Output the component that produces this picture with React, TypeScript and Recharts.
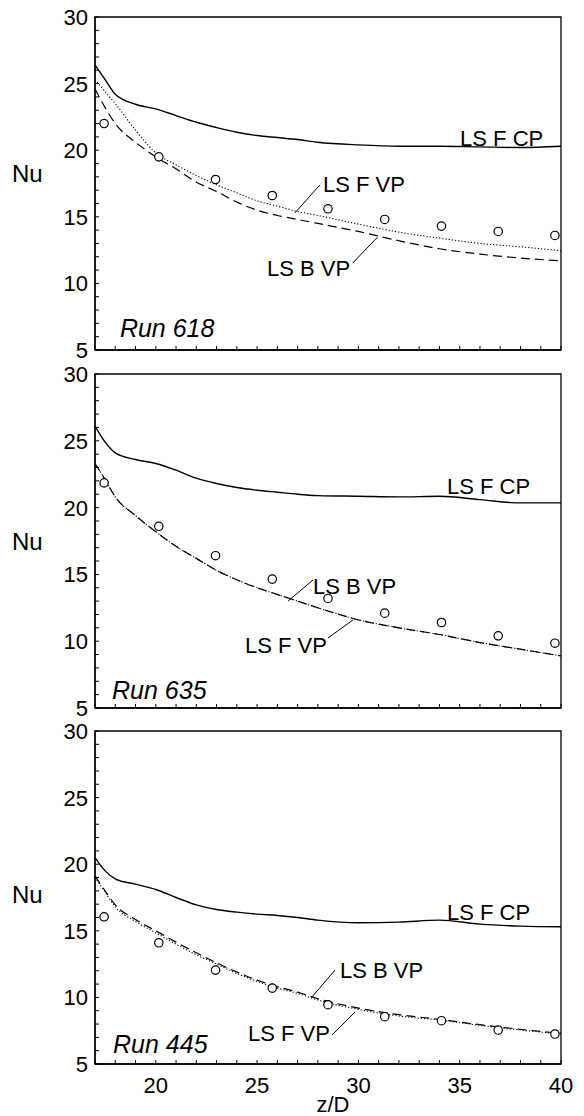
import React from "react";
import {
  ComposedChart,
  Line,
  Scatter,
  XAxis,
  YAxis,
  Label,
  ReferenceArea,
  ReferenceLine,
  ReferenceDot,
} from "recharts";

// z/D stations used for the computed profiles
const zGrid = [17, 17.5, 18, 19, 20, 21, 22, 23, 24, 25, 26, 27, 28, 30, 32, 34, 36, 38, 40];
// z/D stations of the measurements
const zMeasured = [17.45, 20.15, 22.95, 25.75, 28.5, 31.3, 34.1, 36.9, 39.7];

const xTicks = [17, 18, 19, 20, 21, 22, 23, 24, 25, 26, 27, 28, 29, 30, 31, 32, 33, 34, 35, 36, 37, 38, 39, 40];
const yTicks = [5, 6, 7, 8, 9, 10, 11, 12, 13, 14, 15, 16, 17, 18, 19, 20, 21, 22, 23, 24, 25, 26, 27, 28, 29, 30];

// Run 618
const run618Cp = [26.4, 25.3, 24.2, 23.45, 23.1, 22.6, 22.1, 21.7, 21.35, 21.1, 20.95, 20.8, 20.6, 20.4, 20.3, 20.3, 20.25, 20.2, 20.3];
const run618Fvp = [25.3, 24.4, 23.5, 21.5, 19.8, 18.9, 18.1, 17.4, 16.8, 16.2, 15.8, 15.4, 15.1, 14.45, 13.85, 13.4, 13.0, 12.75, 12.45];
const run618Bvp = [24.6, 23.2, 22.0, 20.6, 19.5, 18.6, 17.6, 16.9, 16.1, 15.5, 15.1, 14.8, 14.5, 13.9, 13.2, 12.6, 12.2, 11.9, 11.7];
const run618Nu = [22.0, 19.5, 17.8, 16.6, 15.6, 14.8, 14.3, 13.9, 13.6];

// Run 635
const run635Cp = [26.1, 24.9, 24.1, 23.6, 23.3, 22.8, 22.2, 21.8, 21.5, 21.3, 21.15, 21.0, 20.9, 20.85, 20.8, 20.85, 20.6, 20.35, 20.35];
const run635Fvp = [23.3, 22.1, 20.8, 19.4, 18.2, 17.1, 16.2, 15.3, 14.6, 14.0, 13.5, 13.0, 12.5, 11.6, 11.0, 10.5, 9.9, 9.4, 8.9];
const run635Bvp = [23.3, 22.1, 20.8, 19.4, 18.2, 17.1, 16.2, 15.3, 14.6, 14.0, 13.5, 13.0, 12.5, 11.6, 11.0, 10.5, 9.9, 9.4, 8.9];
const run635Nu = [21.85, 18.6, 16.4, 14.65, 13.2, 12.1, 11.4, 10.4, 9.85];

// Run 445
const run445Cp = [20.5, 19.5, 18.9, 18.5, 18.1, 17.5, 16.95, 16.6, 16.4, 16.25, 16.15, 16.0, 15.8, 15.6, 15.65, 15.8, 15.5, 15.35, 15.3];
const run445Fvp = [19.0, 17.9, 16.8, 15.7, 14.85, 14.0, 13.2, 12.5, 11.8, 11.2, 10.7, 10.3, 9.8, 9.1, 8.6, 8.3, 7.9, 7.55, 7.25];
const run445Bvp = [19.1, 18.0, 16.95, 15.85, 15.0, 14.15, 13.35, 12.6, 11.9, 11.3, 10.8, 10.4, 9.9, 9.2, 8.7, 8.35, 7.95, 7.6, 7.3];
const run445Nu = [16.05, 14.1, 12.05, 10.7, 9.45, 8.55, 8.25, 7.55, 7.25];

const profile = (values: number[]) => zGrid.map((z, i) => ({ z, nu: values[i] }));
const measured = (values: number[]) => zMeasured.map((z, i) => ({ z, nu: values[i] }));

type Note = { text: string; at: [number, number]; leader?: [number, number, number, number] };

const panels = [
  {
    run: "Run 618",
    runAt: [18.23, 6.65],
    cp: run618Cp,
    fvp: run618Fvp,
    bvp: run618Bvp,
    nu: run618Nu,
    top: 0,
    height: 362,
    marginTop: 17,
    xAxisHeight: 12,
    showX: false,
    nuDy: -10,
    notes: [
      { text: "LS F CP", at: [35.02, 20.92] },
      { text: "LS F VP", at: [28.25, 17.45], leader: [26.87, 15.29, 28.1, 17.39] },
      { text: "LS B VP", at: [25.49, 11.16], leader: [29.72, 11.53, 30.95, 13.48] },
    ] as Note[],
  },
  {
    run: "Run 635",
    runAt: [17.84, 6.35],
    cp: run635Cp,
    fvp: run635Fvp,
    bvp: run635Bvp,
    nu: run635Nu,
    top: 362,
    height: 358,
    marginTop: 12,
    xAxisHeight: 12,
    showX: false,
    nuDy: 0,
    notes: [
      { text: "LS F CP", at: [34.37, 21.62] },
      { text: "LS B VP", at: [27.76, 14.13], leader: [26.53, 13.01, 27.76, 14.58] },
      { text: "LS F VP", at: [24.4, 9.72], leader: [28.5, 10.24, 29.73, 11.59] },
    ] as Note[],
  },
  {
    run: "Run 445",
    runAt: [17.89, 6.5],
    cp: run445Cp,
    fvp: run445Fvp,
    bvp: run445Bvp,
    nu: run445Nu,
    top: 720,
    height: 396,
    marginTop: 11,
    xAxisHeight: 52,
    showX: true,
    nuDy: -3,
    notes: [
      { text: "LS F CP", at: [34.37, 16.41] },
      { text: "LS B VP", at: [29.09, 12.06], leader: [27.71, 10.03, 28.85, 12.06] },
      { text: "LS F VP", at: [24.55, 7.33], leader: [28.7, 7.18, 29.83, 8.9] },
    ] as Note[],
  },
];

const FONT = "'Liberation Sans', Arial, Helvetica, sans-serif";

function XTick(props: any) {
  const { x, y, payload, showLabel } = props;
  const v = payload.value;
  return (
    <g>
      <line x1={x} x2={x} y1={y} y2={y - 4} stroke="#000" strokeWidth={1} />
      {showLabel && v % 5 === 0 ? (
        <text x={x} y={y + 28.5} textAnchor="middle" fontSize={22} fill="#000">
          {v}
        </text>
      ) : null}
    </g>
  );
}

function YTick(props: any) {
  const { x, y, payload } = props;
  const v = payload.value;
  return (
    <g>
      <line x1={x} x2={x + 4} y1={y} y2={y} stroke="#000" strokeWidth={1} />
      {v % 5 === 0 ? (
        <text x={x - 7} y={y + 8} textAnchor="end" fontSize={22} fill="#000">
          {v}
        </text>
      ) : null}
    </g>
  );
}

function Panel({ p }: { p: (typeof panels)[number] }) {
  return (
    <div style={{ position: "absolute", left: 0, top: p.top }}>
      <ComposedChart
        width={584}
        height={p.height}
        margin={{ top: p.marginTop, right: 23, bottom: 0, left: 0 }}
      >
        <XAxis
          dataKey="z"
          type="number"
          domain={[17, 40]}
          allowDataOverflow
          ticks={xTicks}
          interval={0}
          height={p.xAxisHeight}
          tickSize={0}
          tickMargin={0}
          axisLine={{ stroke: "#000", strokeWidth: 1.3 }}
          tick={(t: any) => <XTick {...t} showLabel={p.showX} />}
        >
          {p.showX ? (
            <Label value="z/D" position="insideBottom" offset={4} dx={5} fontSize={22} fill="#000" />
          ) : null}
        </XAxis>
        <YAxis
          type="number"
          domain={[5, 30]}
          allowDataOverflow
          ticks={yTicks}
          interval={0}
          width={95}
          tickSize={0}
          tickMargin={0}
          axisLine={{ stroke: "#000", strokeWidth: 1.3 }}
          tick={(t: any) => <YTick {...t} />}
        >
          <Label value="Nu" position="insideLeft" offset={12} dy={p.nuDy} fontSize={24} fill="#000" />
        </YAxis>

        <ReferenceArea x1={17} x2={40} y1={5} y2={30} fill="none" stroke="#000" strokeWidth={1.3} />

        <Line
          data={profile(p.cp)}
          dataKey="nu"
          type="monotone"
          stroke="#000"
          strokeWidth={1.4}
          dot={false}
          isAnimationActive={false}
        />
        <Line
          data={profile(p.bvp)}
          dataKey="nu"
          type="monotone"
          stroke="#000"
          strokeWidth={1.2}
          strokeDasharray="9 5"
          dot={false}
          isAnimationActive={false}
        />
        <Line
          data={profile(p.fvp)}
          dataKey="nu"
          type="monotone"
          stroke="#000"
          strokeWidth={1.1}
          strokeDasharray="1.2 2"
          dot={false}
          isAnimationActive={false}
        />
        <Scatter
          data={measured(p.nu)}
          dataKey="nu"
          isAnimationActive={false}
          shape={(s: any) => (
            <circle cx={s.cx} cy={s.cy} r={4.2} fill="#fff" stroke="#000" strokeWidth={1.2} />
          )}
        />

        {p.notes.map((n) =>
          n.leader ? (
            <ReferenceLine
              key={n.text + "-leader"}
              segment={[
                { x: n.leader[0], y: n.leader[1] },
                { x: n.leader[2], y: n.leader[3] },
              ]}
              stroke="#000"
              strokeWidth={1}
            />
          ) : null
        )}
        {p.notes.map((n) => (
          <ReferenceDot
            key={n.text}
            x={n.at[0]}
            y={n.at[1]}
            r={0}
            stroke="none"
            fill="none"
            label={{ value: n.text, position: "right", offset: 0, fontSize: 22, fill: "#000" }}
          />
        ))}
        <ReferenceDot
          x={p.runAt[0]}
          y={p.runAt[1]}
          r={0}
          stroke="none"
          fill="none"
          label={{ value: p.run, position: "right", offset: 0, fontSize: 25, fontStyle: "italic", fill: "#000" }}
        />
      </ComposedChart>
    </div>
  );
}

export default function App() {
  return (
    <div
      style={{
        position: "absolute",
        left: 0,
        top: 0,
        width: 584,
        height: 1116,
        background: "#fff",
        fontFamily: FONT,
      }}
    >
      {panels.map((p) => (
        <Panel key={p.run} p={p} />
      ))}
    </div>
  );
}
